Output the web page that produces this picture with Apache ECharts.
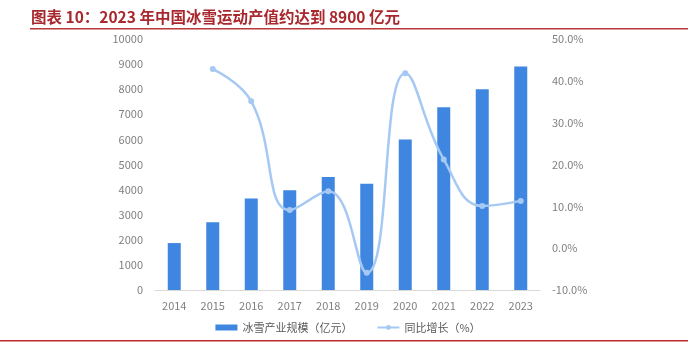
<!DOCTYPE html>
<html>
<head>
<meta charset="utf-8">
<script src="https://cdn.jsdelivr.net/npm/echarts@6/dist/echarts.min.js"></script>
<style>
  html, body { margin: 0; padding: 0; background: #fff; }
  #chart { width: 696px; height: 350px; }
</style>
</head>
<body>
<div id="chart"></div>
<script>
// 中国冰雪产业规模及同比增长
const years = ['2014', '2015', '2016', '2017', '2018', '2019', '2020', '2021', '2022', '2023'];
const scale = [1870, 2700, 3650, 3970, 4500, 4230, 6000, 7280, 8000, 8900];   // 亿元
const growth = [null, 42.8, 35.1, 9.1, 13.6, -5.9, 41.8, 21.2, 10.1, 11.3];   // %
const titleText = '图表 10：2023 年中国冰雪运动产值约达到 8900 亿元';

const chart = echarts.init(document.getElementById('chart'));
const fontFamily = '"Noto Sans CJK SC", "Noto Sans", sans-serif';
const labelColor = '#7f7f7f';

chart.setOption({
  animation: false,
  textStyle: { fontFamily: fontFamily },
  graphic: [
    {
      type: 'text', left: 31, top: 9,
      style: { text: titleText, fill: '#a8282d', font: 'bold 15.5px ' + fontFamily }
    },
    {
      type: 'rect', shape: { x: 30, y: 28, width: 658, height: 1.5 },
      style: { fill: '#b8383c' }
    },
    {
      type: 'rect', shape: { x: 0, y: 340, width: 688, height: 1.5 },
      style: { fill: '#c0282d' }
    }
  ],
  grid: { left: 155, right: 156, top: 39, bottom: 60 },
  legend: {
    bottom: 12, left: 'center',
    itemWidth: 22, itemHeight: 6, itemGap: 24,
    textStyle: { color: '#595959', fontSize: 11 },
    data: [
      { name: '冰雪产业规模（亿元）', icon: 'rect' },
      { name: '同比增长（%）' }
    ]
  },
  xAxis: {
    type: 'category',
    data: years,
    axisLine: { lineStyle: { color: '#d9d9d9', width: 1 } },
    axisTick: { show: false },
    axisLabel: { color: labelColor, fontSize: 11, margin: 10 }
  },
  yAxis: [
    {
      type: 'value', min: 0, max: 10000, interval: 1000,
      splitLine: { show: false },
      axisLine: { show: false }, axisTick: { show: false },
      axisLabel: { color: labelColor, fontSize: 11, margin: 12, formatter: v => String(v) }
    },
    {
      type: 'value', min: -10, max: 50, interval: 10,
      splitLine: { show: false },
      axisLine: { show: false }, axisTick: { show: false },
      axisLabel: {
        color: labelColor, fontSize: 11, margin: 12,
        formatter: v => v.toFixed(1) + '%'
      }
    }
  ],
  series: [
    {
      name: '冰雪产业规模（亿元）',
      type: 'bar',
      data: scale,
      barWidth: 13,
      itemStyle: { color: '#3f86e0' }
    },
    {
      name: '同比增长（%）',
      type: 'line',
      yAxisIndex: 1,
      data: growth,
      smooth: 0.45,
      symbol: 'circle',
      symbolSize: 6,
      lineStyle: { color: '#a6c9f3', width: 2.5 },
      itemStyle: { color: '#a6c9f3' },
      z: 3
    }
  ]
});
</script>
</body>
</html>
